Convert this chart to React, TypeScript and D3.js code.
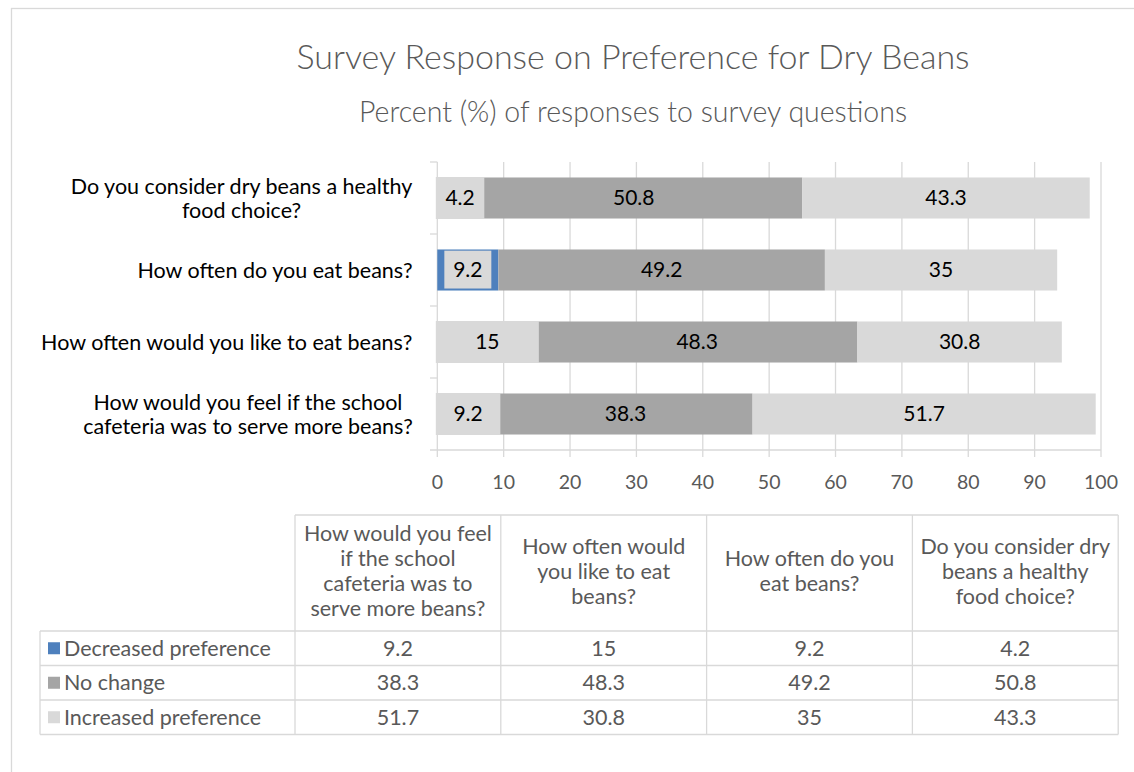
import React from "react";
import * as d3 from "d3";

// ---- data ----
const categories = [
  "How would you feel if the school cafeteria was to serve more beans?",
  "How often would you like to eat beans?",
  "How often do you eat beans?",
  "Do you consider dry beans a healthy food choice?",
];
const seriesNames = ["Decreased preference", "No change", "Increased preference"];
const decreased = [9.2, 15, 9.2, 4.2];
const noChange = [38.3, 48.3, 49.2, 50.8];
const increased = [51.7, 30.8, 35, 43.3];
const xTicks = [0, 10, 20, 30, 40, 50, 60, 70, 80, 90, 100];

const title = "Survey Response on Preference for Dry Beans";
const subtitle = "Percent (%) of responses to survey questions";

// wrapped text of category labels (axis) and table headers
const axisLabelLines: Record<string, string[]> = {
  [categories[0]]: ["How would you feel if the school", "cafeteria was to serve more beans?"],
  [categories[1]]: ["How often would you like to eat beans?"],
  [categories[2]]: ["How often do you eat beans?"],
  [categories[3]]: ["Do you consider dry beans a healthy", "food choice?"],
};
const tableHeaderLines: Record<string, string[]> = {
  [categories[0]]: ["How would you feel", "if the school", "cafeteria was to", "serve more beans?"],
  [categories[1]]: ["How often would", "you like to eat", "beans?"],
  [categories[2]]: ["How often do you", "eat beans?"],
  [categories[3]]: ["Do you consider dry", "beans a healthy", "food choice?"],
};

const colors = ["#4e80bd", "#a5a5a5", "#d9d9d9"];
const exposedPoint = "How often do you eat beans?";

const FONT = "Lato, 'Open Sans', sans-serif";
const GRID = "#d9d9d9";
const TXT = "#595959";
const LABEL_SIZE = 21.5;

function measure(text: string, size: number): number {
  if (typeof document === "undefined") return text.length * size * 0.5;
  const c = document.createElement("canvas").getContext("2d");
  if (!c) return text.length * size * 0.5;
  c.font = `${size}px Lato, 'Open Sans', sans-serif`;
  return c.measureText(text).width;
}

export default function App() {
  const W = 1134, H = 772;
  const x = d3.scaleLinear().domain([0, 100]).range([437.3, 1101]);
  const topToBottom = [...categories].reverse();
  const y = d3.scaleBand<string>().domain(topToBottom).range([162, 450]).paddingInner(0.43).paddingOuter(0.215);
  const bw = y.bandwidth();

  const rows = categories.map((c, i) => ({ cat: c, d: decreased[i], n: noChange[i], inc: increased[i] }));
  const stack = d3.stack<any>().keys(["d", "n", "inc"]);
  const layers = stack(rows);

  // table geometry
  const tLeft = 40, colStart = 295, colW = 205.8;
  const tTop = 515, hdrBottom = 631, rowH = 34.5;
  const tableCols = categories.map((c, i) => colStart + i * colW);
  const tRight = colStart + categories.length * colW;
  const seriesVals = [decreased, noChange, increased];

  const hdrCenter = (tTop + hdrBottom) / 2 - 2;
  const hdrLH = 25;
  const labelRight = 413;

  return (
    <svg width={W} height={H} style={{ position: "absolute", left: 0, top: 0, background: "#fff" }} fontFamily={FONT}>
      <rect x={11.5} y={8.5} width={W + 50} height={H + 50} fill="#fff" stroke={GRID} strokeWidth={1.3} />
      <text x={633} y={57} textAnchor="middle" dy="0.35em" fontSize={34} fontWeight={300} fill={TXT}>{title}</text>
      <text x={633} y={112} textAnchor="middle" dy="0.35em" fontSize={28.5} fontWeight={300} fill={TXT}>{subtitle}</text>

      {/* gridlines */}
      {xTicks.map((t) => (
        <line key={"g" + t} x1={x(t)} x2={x(t)} y1={162} y2={457} stroke={GRID} strokeWidth={1.3} />
      ))}
      {/* horizontal axis line */}
      <line x1={430} x2={x(100)} y1={450} y2={450} stroke={GRID} strokeWidth={1.3} />
      {/* category ticks */}
      {topToBottom.map((c) => (
        <line key={"ct" + c} x1={430} x2={x(0)} y1={(y(c) as number) - (y.step() - bw) / 2} y2={(y(c) as number) - (y.step() - bw) / 2} stroke={GRID} strokeWidth={1.3} />
      ))}
      {xTicks.map((t) => (
        <text key={"xt" + t} x={x(t)} y={482} textAnchor="middle" dy="0.35em" fontSize={19.5} fill={TXT}>{t}</text>
      ))}

      {/* category labels */}
      {categories.map((c) => {
        const lines = axisLabelLines[c];
        const cy = (y(c) as number) + bw / 2;
        const lh = 24;
        const maxW = Math.max(...lines.map((l) => measure(l, LABEL_SIZE)));
        const cx = labelRight - maxW / 2;
        return lines.map((ln, k) => (
          <text key={c + k} x={cx} y={cy + (k - (lines.length - 1) / 2) * lh} dy="0.35em"
            textAnchor="middle" fontSize={LABEL_SIZE} fill="#000">{ln}</text>
        ));
      })}

      {/* bars */}
      {layers.map((layer, li) => (
        <g key={"l" + li}>
          {layer.map((seg, i) => (
            <rect key={i} x={x(seg[0])} y={y(categories[i])} width={x(seg[1]) - x(seg[0])} height={bw} fill={colors[li]} />
          ))}
        </g>
      ))}
      {/* data labels */}
      {layers.map((layer, li) => (
        <g key={"dl" + li}>
          {layer.map((seg, i) => {
            const c = categories[i];
            const by = y(c) as number;
            const v = seriesVals[li][i];
            if (li === 0) {
              let bx0: number, bx1: number, by0: number, by1: number;
              if (c === exposedPoint) {
                const cx = (x(seg[0]) + x(seg[1])) / 2;
                bx0 = cx - 23.5; bx1 = cx + 23.5; by0 = by + 1.2; by1 = by + bw - 2;
              } else {
                bx0 = x(0) - 1.5; bx1 = Math.max(x(seg[1]) + 2, x(0) + 47); by0 = by - 0.5; by1 = by + bw + 0.5;
              }
              return (
                <g key={i}>
                  <rect x={bx0} y={by0} width={bx1 - bx0} height={by1 - by0} fill="#d9d9d9" />
                  <text x={(bx0 + bx1) / 2} y={by + bw / 2} dy="0.35em" textAnchor="middle" fontSize={21} fill="#000">{v}</text>
                </g>
              );
            }
            return (
              <text key={i} x={(x(seg[0]) + x(seg[1])) / 2} y={by + bw / 2} dy="0.35em" textAnchor="middle" fontSize={21} fill="#000">{v}</text>
            );
          })}
        </g>
      ))}

      {/* data table */}
      <g stroke={GRID} strokeWidth={1.3} fill="none">
        <line x1={colStart} x2={tRight} y1={tTop} y2={tTop} />
        {[...tableCols, tRight].map((cx, i) => (
          <line key={"tc" + i} x1={cx} x2={cx} y1={tTop} y2={hdrBottom + rowH * 3} />
        ))}
        <line x1={tLeft} x2={tLeft} y1={hdrBottom} y2={hdrBottom + rowH * 3} />
        {[0, 1, 2, 3].map((r) => (
          <line key={"tr" + r} x1={tLeft} x2={tRight} y1={hdrBottom + r * rowH} y2={hdrBottom + r * rowH} />
        ))}
      </g>
      {categories.map((c, i) => {
        const lines = tableHeaderLines[c];
        const cx = tableCols[i] + colW / 2;
        return lines.map((ln, k) => (
          <text key={"th" + i + k} x={cx} y={hdrCenter + (k - (lines.length - 1) / 2) * hdrLH} dy="0.35em"
            textAnchor="middle" fontSize={LABEL_SIZE} fill={TXT}>{ln}</text>
        ));
      })}
      {seriesNames.map((s, r) => {
        const cy = hdrBottom + r * rowH + rowH / 2;
        return (
          <g key={"sr" + s}>
            <rect x={48} y={cy - 6} width={12} height={12} fill={colors[r]} />
            <text x={64} y={cy} dy="0.35em" fontSize={LABEL_SIZE} fill={TXT}>{s}</text>
            {seriesVals[r].map((v, i) => (
              <text key={i} x={tableCols[i] + colW / 2} y={cy} dy="0.35em" textAnchor="middle" fontSize={LABEL_SIZE} fill={TXT}>{v}</text>
            ))}
          </g>
        );
      })}
    </svg>
  );
}
